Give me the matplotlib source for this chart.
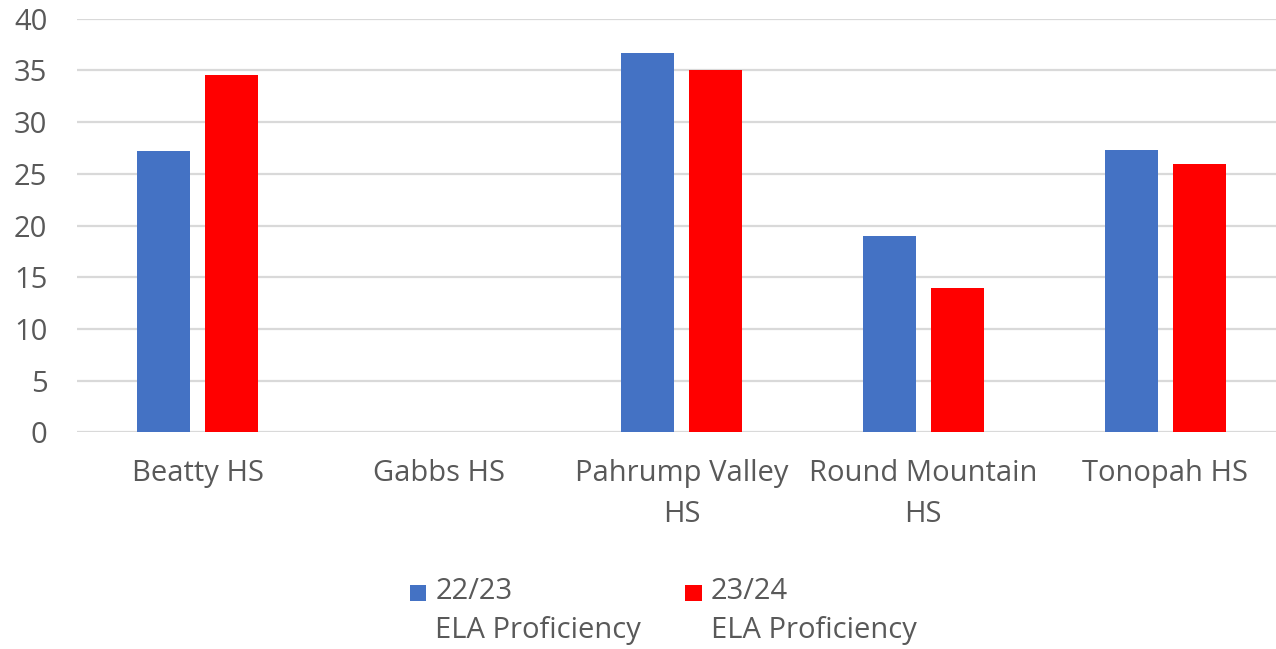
import matplotlib.pyplot as plt
import numpy as np
from matplotlib.patches import Rectangle
from matplotlib.legend_handler import HandlerPatch

# data
schools = ["Beatty HS", "Gabbs HS", "Pahrump Valley\nHS", "Round Mountain\nHS", "Tonopah HS"]
ela_2223 = [27.2, 0, 36.7, 19.0, 27.3]
ela_2324 = [34.6, 0, 35.0, 14.0, 26.0]
series_labels = ["22/23\nELA Proficiency", "23/24\nELA Proficiency"]

plt.rcParams['font.family'] = ['Open Sans', 'DejaVu Sans']
grey = '#595959'


# legend square sits next to the first text line, not in the middle
class TopSquare(HandlerPatch):
    def create_artists(self, legend, orig_handle, xdescent, ydescent,
                       width, height, fontsize, trans):
        side = 0.55 * fontsize
        p = Rectangle((-xdescent + (width - side) / 2, -ydescent + 0.72 * fontsize),
                      side, side, facecolor=orig_handle.get_facecolor(),
                      edgecolor='none', transform=trans)
        return [p]


fig = plt.figure(figsize=(12.76, 6.49), dpi=100)
# plot area runs slightly past the right edge, like the original
ax = fig.add_axes([0.06, 0.334, 0.948, 0.637])

x = np.arange(len(schools))
w = 0.219
off = 0.1405
b1 = ax.bar(x - off, ela_2223, w, color='#4472C4', label=series_labels[0])
b2 = ax.bar(x + off, ela_2324, w, color='#FF0000', label=series_labels[1])

ax.set_xlim(-0.5, len(schools) - 0.5)
ax.set_ylim(0, 40)
ax.set_yticks(np.arange(0, 41, 5))
ax.set_xticks(x)
ax.set_xticklabels(schools, linespacing=1.55)
ax.yaxis.grid(True, color='#D9D9D9', linewidth=1.6)
ax.set_axisbelow(True)
for s in ax.spines.values():
    s.set_visible(False)
ax.tick_params(axis='both', length=0, labelsize=21, colors=grey)
ax.tick_params(axis='y', pad=21)
ax.tick_params(axis='x', pad=19)

h1 = b1.patches[0]
h2 = b2.patches[0]
leg = fig.legend(handles=[h1, h2], labels=series_labels, loc='center',
                 bbox_to_anchor=(0.5195, 0.058), ncol=2, frameon=False,
                 fontsize=21, labelcolor=grey,
                 handler_map={h1: TopSquare(), h2: TopSquare()},
                 handlelength=0.6, handletextpad=0.3, columnspacing=1.5)
for t in leg.get_texts():
    t.set_linespacing(1.45)

plt.savefig('out.png', dpi=100)
